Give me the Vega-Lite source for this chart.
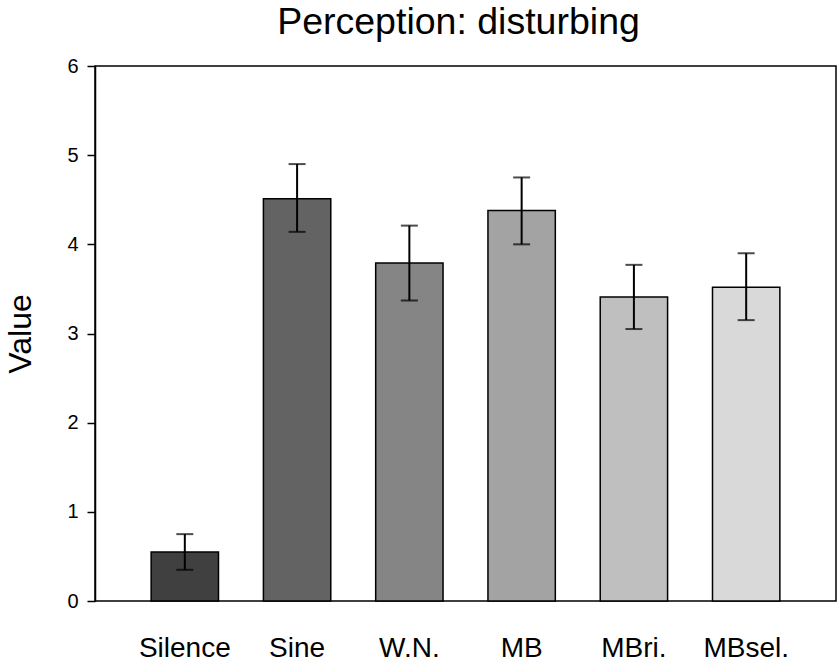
{
  "$schema": "https://vega.github.io/schema/vega-lite/v6.json",
  "width": 741,
  "height": 535,
  "autosize": "none",
  "padding": {"left": 95, "top": 66, "right": 3, "bottom": 61},
  "background": "white",
  "title": {
    "text": "Perception: disturbing",
    "font": "Liberation Sans",
    "fontSize": 37.5,
    "fontWeight": "normal",
    "color": "black",
    "offset": 15,
    "dx": -7
  },
  "data": {
    "values": [
      {"condition": "Silence", "mean": 0.55, "lo": 0.35, "hi": 0.75},
      {"condition": "Sine", "mean": 4.51, "lo": 4.14, "hi": 4.9},
      {"condition": "W.N.", "mean": 3.79, "lo": 3.37, "hi": 4.21},
      {"condition": "MB", "mean": 4.38, "lo": 4.0, "hi": 4.75},
      {"condition": "MBri.", "mean": 3.41, "lo": 3.05, "hi": 3.77},
      {"condition": "MBsel.", "mean": 3.52, "lo": 3.15, "hi": 3.9}
    ]
  },
  "encoding": {
    "x": {
      "field": "condition",
      "type": "nominal",
      "sort": null,
      "scale": {"paddingInner": 0.4, "paddingOuter": 0.5},
      "axis": {
        "title": null,
        "labelAngle": 0,
        "ticks": false,
        "domain": false,
        "labelFontSize": 28,
        "labelPadding": 33
      }
    }
  },
  "layer": [
    {
      "mark": {"type": "bar", "stroke": "black", "strokeWidth": 1.5},
      "encoding": {
        "y": {
          "field": "mean",
          "type": "quantitative",
          "scale": {"domain": [0, 6]},
          "title": "Value",
          "axis": {
            "values": [0, 1, 2, 3, 4, 5, 6],
            "format": "d",
            "labelFontSize": 20,
            "titlePadding": 29
          }
        },
        "color": {
          "field": "condition",
          "type": "nominal",
          "sort": null,
          "scale": {
            "domain": ["Silence", "Sine", "W.N.", "MB", "MBri.", "MBsel."],
            "range": ["#404040", "#636363", "#858585", "#a3a3a3", "#bfbfbf", "#d9d9d9"]
          },
          "legend": null
        }
      }
    },
    {
      "mark": {"type": "rule", "color": "black", "strokeWidth": 2},
      "encoding": {
        "y": {"field": "lo", "type": "quantitative", "title": "Value"},
        "y2": {"field": "hi"}
      }
    },
    {
      "mark": {"type": "tick", "color": "black", "thickness": 2, "size": 17},
      "encoding": {"y": {"field": "lo", "type": "quantitative", "title": "Value"}}
    },
    {
      "mark": {"type": "tick", "color": "black", "thickness": 2, "size": 17},
      "encoding": {"y": {"field": "hi", "type": "quantitative", "title": "Value"}}
    }
  ],
  "config": {
    "font": "Liberation Sans",
    "view": {"stroke": "black", "strokeWidth": 1.5},
    "axis": {
      "labelColor": "black",
      "titleColor": "black",
      "domainColor": "black",
      "domainWidth": 1.5,
      "tickColor": "black",
      "tickWidth": 1.5,
      "labelFont": "Liberation Sans",
      "titleFont": "Liberation Sans"
    },
    "axisY": {
      "grid": false,
      "tickSize": 8,
      "labelPadding": 9,
      "titleFontSize": 32,
      "titleFontWeight": "normal"
    }
  }
}
